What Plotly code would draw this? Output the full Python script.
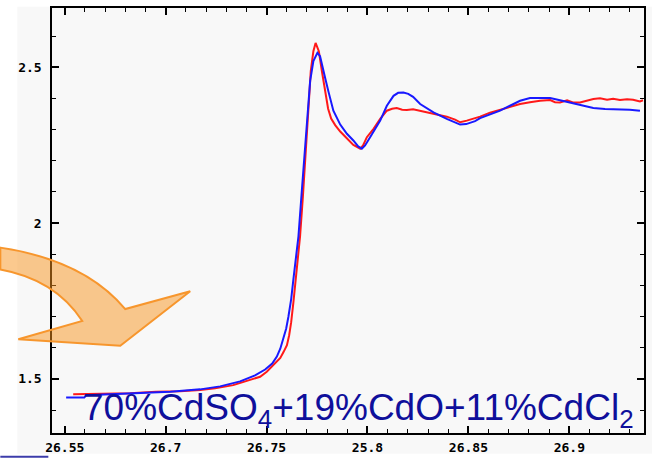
import plotly.graph_objects as go

# ---- data ----
red_E = [26.6542, 26.6676, 26.6824, 26.6953, 26.7072, 26.7172, 26.7245, 26.7335, 26.7419, 26.7468,
         26.7501, 26.7534, 26.7553, 26.7568, 26.7584, 26.7601, 26.7612, 26.7622, 26.7633, 26.7650,
         26.7666, 26.7680, 26.7691, 26.7700, 26.7711, 26.7719, 26.7732, 26.7743, 26.7759, 26.7774,
         26.7790, 26.7805, 26.7820, 26.7840, 26.7865, 26.7898, 26.7930, 26.7964, 26.7978, 26.7997,
         26.8030, 26.8063, 26.8096, 26.8122, 26.8145, 26.8172, 26.8195, 26.8226, 26.8260, 26.8327,
         26.8393, 26.8434, 26.8459, 26.8492, 26.8523, 26.8558, 26.8607, 26.8657, 26.8706, 26.8756,
         26.8805, 26.8855, 26.8905, 26.8929, 26.8954, 26.8989, 26.9018, 26.9053, 26.9086, 26.9119,
         26.9152, 26.9187, 26.9217, 26.9251, 26.9286, 26.9316, 26.9350, 26.9365]
red_mu = [1.4505, 1.452, 1.4537, 1.459, 1.460, 1.4642, 1.4696, 1.480, 1.496, 1.5068,
          1.5228, 1.5437, 1.5555, 1.567, 1.586, 1.608, 1.640, 1.682, 1.7455, 1.8514,
          1.9574, 2.0846, 2.2119, 2.2969, 2.4028, 2.4878, 2.5514, 2.5778, 2.5514, 2.4878,
          2.4242, 2.3668, 2.335, 2.3143, 2.2937, 2.2714, 2.2507, 2.2386, 2.2491, 2.2755,
          2.3023, 2.334, 2.3605, 2.3668, 2.369, 2.3637, 2.3627, 2.3652, 2.3605, 2.3519,
          2.3414, 2.3318, 2.3233, 2.3287, 2.335, 2.3414, 2.3541, 2.3636, 2.3732, 2.3818,
          2.3875, 2.3923, 2.3945, 2.3875, 2.3869, 2.3939, 2.3869, 2.3869, 2.3923, 2.3977,
          2.4003, 2.3955, 2.3987, 2.3945, 2.397, 2.3955, 2.3901, 2.3939]

blue_E = [26.6507, 26.6597, 26.6606, 26.6725, 26.6874, 26.7023, 26.7171, 26.7270, 26.7369, 26.7443,
          26.7493, 26.7528, 26.7551, 26.7568, 26.7584, 26.7597, 26.7608, 26.7622, 26.7633, 26.7658,
          26.7675, 26.7691, 26.7705, 26.7716, 26.7732, 26.7752, 26.7765, 26.7782, 26.7790, 26.7807,
          26.7831, 26.7865, 26.7898, 26.7930, 26.7954, 26.7972, 26.7988, 26.8013, 26.8063, 26.8096,
          26.8129, 26.8152, 26.8178, 26.8202, 26.8226, 26.8261, 26.8327, 26.8393, 26.8434, 26.8459,
          26.8489, 26.8533, 26.8558, 26.8607, 26.8657, 26.8706, 26.8756, 26.8805, 26.8855, 26.8905,
          26.8954, 26.9004, 26.9053, 26.9119, 26.9177, 26.9251, 26.9300, 26.9350]
blue_mu = [1.440, 1.440, 1.4473, 1.4505, 1.4537, 1.4585, 1.4664, 1.476, 1.4919, 1.511,
           1.530, 1.5492, 1.5715, 1.597, 1.632, 1.661, 1.6987, 1.756, 1.8196, 1.9574,
           2.106, 2.2545, 2.3605, 2.4559, 2.5196, 2.546, 2.5355, 2.4941, 2.4664, 2.4209,
           2.3605, 2.3159, 2.2864, 2.265, 2.2459, 2.2386, 2.2491, 2.2755, 2.3287, 2.3764,
           2.4082, 2.4178, 2.4187, 2.4146, 2.405, 2.3818, 2.3551, 2.3341, 2.3223, 2.3159,
           2.3175, 2.3271, 2.3366, 2.3494, 2.3605, 2.3764, 2.3923, 2.4009, 2.4018, 2.4009,
           2.3939, 2.3859, 2.378, 2.3691, 2.3659, 2.3659, 2.3637, 2.3605]

x_tickvals = [26.65, 26.7, 26.75, 26.8, 26.85, 26.9]
x_ticktext = ["26.55", "26.7", "26.75", "25.8", "26.85", "26.9"]
y_tickvals = [1.5, 2, 2.5]
y_ticktext = ["1.5", "2", "2.5"]
label_text = "70%CdSO<sub>4</sub>+19%CdO+11%CdCl<sub>2</sub>"

fig = go.Figure()
fig.add_trace(go.Scatter(x=red_E, y=red_mu, mode="lines",
                         line=dict(color="rgb(255,25,25)", width=2), showlegend=False))
fig.add_trace(go.Scatter(x=blue_E, y=blue_mu, mode="lines",
                         line=dict(color="rgb(25,25,255)", width=2), showlegend=False))

tickfont = dict(family="DejaVu Sans Mono", size=13, color="black", weight="bold")
axis_common = dict(showline=True, linecolor="black", linewidth=1.5, mirror="ticks",
                   ticks="inside", ticklen=7, tickwidth=1.5, tickcolor="black",
                   showgrid=False, zeroline=False, tickfont=tickfont)

fig.update_xaxes(range=[26.6437, 26.937], tickmode="array", tickvals=x_tickvals,
                 ticktext=x_ticktext, ticklabelstandoff=2,
                 minor=dict(ticks="inside", ticklen=4, tickwidth=1.2, tickcolor="black",
                            tick0=26.6, dtick=0.01, showgrid=False),
                 **axis_common)
fig.update_yaxes(range=[1.3264, 2.690], tickmode="array", tickvals=y_tickvals,
                 ticktext=y_ticktext, ticklabelstandoff=6,
                 minor=dict(ticks="inside", ticklen=4, tickwidth=1.2, tickcolor="black",
                            tick0=1.0, dtick=0.1, showgrid=False),
                 **axis_common)

arrow_path = ("M -0.08729 0.43620 Q 0.05420 0.40681 0.12375 0.29158 "
              "L 0.23350 0.33357 L 0.11531 0.20527 L -0.05690 0.22043 "
              "L 0.05116 0.26359 Q 0.00557 0.36156 -0.08729 0.38488 Z")

fig.update_layout(
    width=652, height=461,
    margin=dict(l=52, r=8, t=6, b=26, pad=0),
    paper_bgcolor="white",
    plot_bgcolor="#f8f8f8",
    shapes=[
        dict(type="rect", xref="paper", yref="paper", x0=-0.0586, x1=1.02, y0=-0.049, y1=1.003,
             fillcolor="#f8f8f8", line=dict(width=0), layer="below"),
        dict(type="line", xref="paper", yref="paper", x0=-0.0873, x1=-0.0062, y0=-0.056, y1=-0.056,
             line=dict(color="rgb(60,60,170)", width=2)),
        dict(type="path", xref="paper", yref="paper", path=arrow_path,
             fillcolor="rgba(247,148,30,0.5)", line=dict(color="rgb(247,150,45)", width=2),
             layer="above"),
    ],
    annotations=[
        dict(text=label_text, xref="paper", yref="paper", x=0.0495, y=0.0537,
             xanchor="left", yanchor="middle", showarrow=False,
             font=dict(family="Liberation Sans", size=37, color="rgb(15,15,155)")),
    ],
)

fig.write_html("out.html")
